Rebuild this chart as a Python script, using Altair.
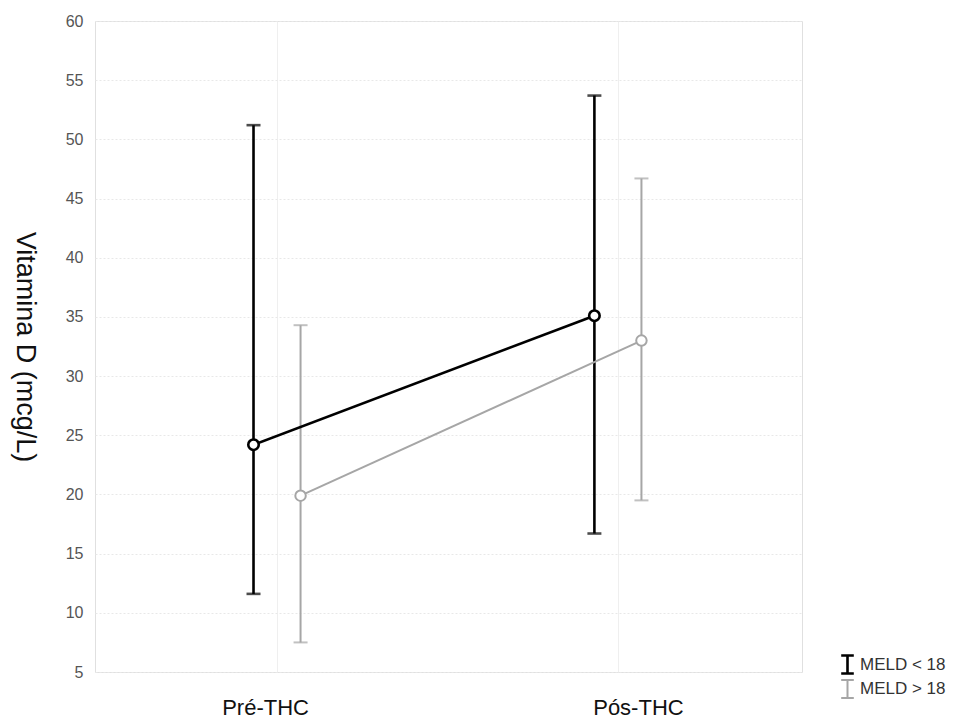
import json
import altair as alt
import pandas as pd

# ---- data ----
categories = ["Pré-THC", "Pós-THC"]
groups = ["MELD < 18", "MELD > 18"]
mean_lt18 = [24.2, 35.1]
low_lt18 = [11.6, 16.7]
high_lt18 = [51.2, 53.7]
mean_gt18 = [19.9, 33.0]
low_gt18 = [7.5, 19.5]
high_gt18 = [34.3, 46.7]
y_ticks = list(range(5, 61, 5))

DODGE = 0.069  # horizontal dodge of the two groups (in category units)

rows = []
for gi, (g, means, lows, highs) in enumerate(
    zip(groups, [mean_lt18, mean_gt18], [low_lt18, low_gt18], [high_lt18, high_gt18])
):
    for ci, cat in enumerate(categories):
        rows.append(
            dict(
                categoria=cat,
                grupo=g,
                pos=ci + 1 + (gi - 0.5) * 2 * DODGE,
                media=means[ci],
                inf=lows[ci],
                sup=highs[ci],
            )
        )
df = pd.DataFrame(rows)

FONT = "Liberation Sans"
colors = ["#000000", "#a6a6a6"]
widths = [2.6, 2.0]

legend = alt.Legend(
    title=None,
    orient="none",
    legendX=742,
    legendY=633,
    symbolType="M-0.7,-1H0.7M0,-1V1M-0.7,1H0.7",
    symbolSize=324,
    symbolFillColor="transparent",
    labelFont=FONT,
    labelFontSize=17,
    labelColor="#333333",
    labelOffset=2,
    rowPadding=-4,
    padding=0,
)

x_enc = alt.X(
    "pos:Q",
    scale=alt.Scale(domain=[0.466, 2.54], nice=False, zero=False),
    axis=alt.Axis(
        values=[1, 2],
        labelExpr=f"{json.dumps(categories)}[datum.value - 1]",
        title=None,
        ticks=False,
        domain=False,
        labelFont=FONT,
        labelFontSize=22,
        labelColor="#111111",
        labelPadding=25,
        labelOffset={"condition": {"test": "datum.value == 1", "value": -12}, "value": 20},
        gridColor="#efefef",
        gridWidth=1,
    ),
)

y_scale = alt.Scale(domain=[5, 60], nice=False, zero=False)
y_axis = alt.Axis(
    values=y_ticks,
    title="Vitamina D (mcg/L)",
    titleAngle=90,
    titleX=-71,
    titleY=325.5,
    titleAlign="center",
    titleBaseline="middle",
    titleFont=FONT,
    titleFontSize=27,
    titleFontWeight="normal",
    titleColor="#111111",
    labelFont=FONT,
    labelFontSize=16,
    labelColor="#555555",
    labelPadding=12,
    ticks=False,
    domain=False,
    gridColor="#e8e8e8",
    gridDash=[2, 2],
)

stroke_enc = alt.Stroke(
    "grupo:N", scale=alt.Scale(domain=groups, range=colors), legend=legend
)
sw_enc = alt.StrokeWidth(
    "grupo:N", scale=alt.Scale(domain=groups, range=widths), legend=legend
)

base = alt.Chart(df)

stems = base.mark_rule().encode(
    x=x_enc,
    y=alt.Y("inf:Q", scale=y_scale, axis=y_axis),
    y2="sup:Q",
    stroke=stroke_enc,
    strokeWidth=sw_enc,
)

caps = []
for g, c, w in zip(groups, colors, widths):
    for fld in ["inf", "sup"]:
        caps.append(
            base.transform_filter(alt.datum.grupo == g)
            .mark_tick(orient="horizontal", size=14, thickness=w, color=c)
            .encode(x="pos:Q", y=f"{fld}:Q")
        )

lines = base.mark_line().encode(
    x="pos:Q",
    y="media:Q",
    detail="grupo:N",
    stroke=stroke_enc,
    strokeWidth=sw_enc,
)

points = base.mark_point(shape="circle", size=110, fill="white", opacity=1).encode(
    x="pos:Q",
    y="media:Q",
    stroke=stroke_enc,
    strokeWidth=sw_enc,
)

chart = (
    alt.layer(stems, *caps, lines, points)
    .properties(
        width=707,
        height=651,
        autosize=alt.AutoSizeParams(type="none"),
        padding={"left": 87, "top": 13, "right": 150, "bottom": 46},
    )
    .configure_view(stroke="#e0e0e0", strokeWidth=1)
)

chart.save("out.html", embed_options={"renderer": "svg", "actions": False})
